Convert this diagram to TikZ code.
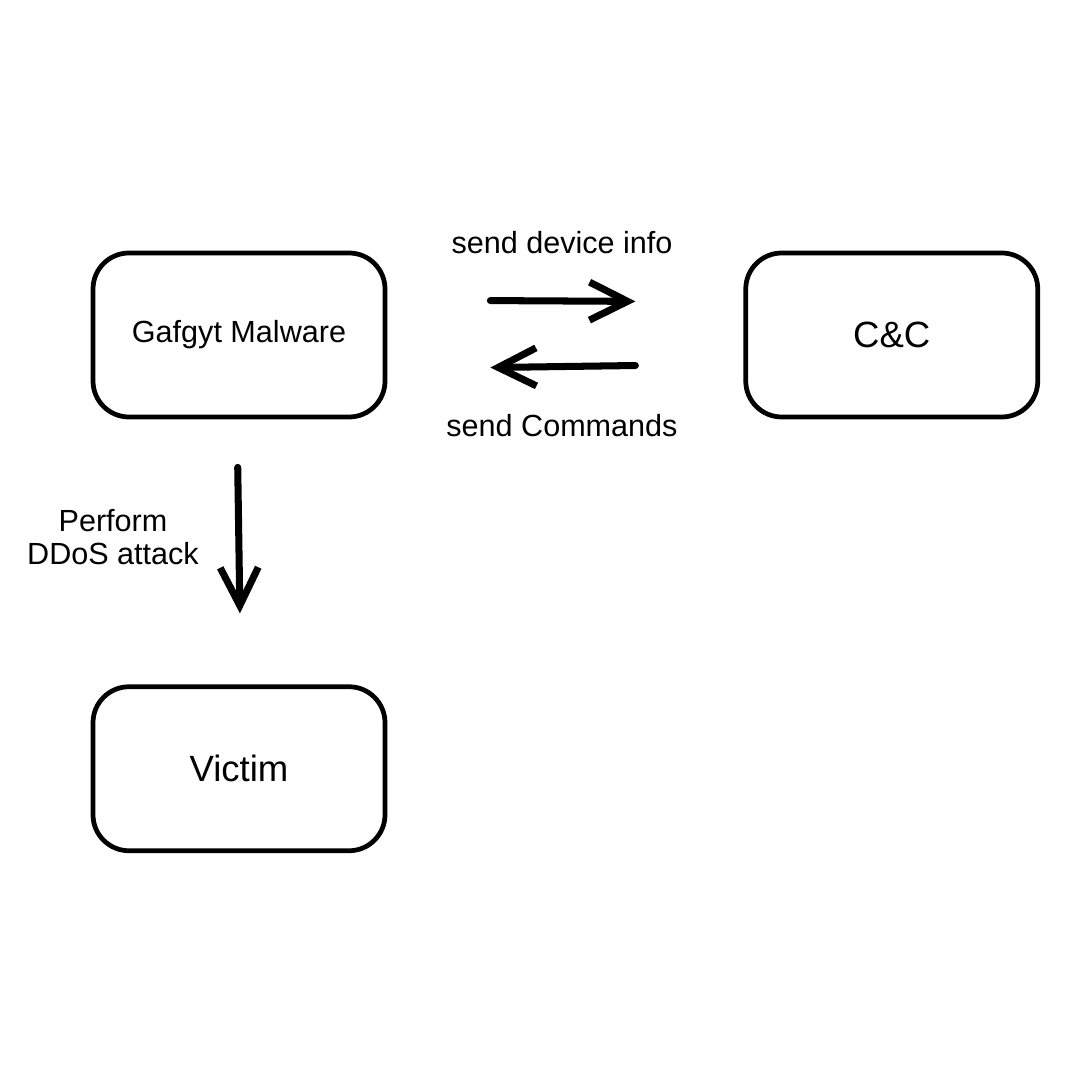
\documentclass[tikz,border=0pt]{standalone}
\usepackage{fontspec}
\setmainfont{Liberation Sans}
\usetikzlibrary{positioning,arrows.meta}

\begin{document}
\begin{tikzpicture}
		\tikzstyle{box}=[rectangle, rounded corners=0.36cm, line width=1.35pt, draw=black, minimum width=2.92cm, minimum height=1.64cm, font=\fontsize{10.4pt}{12pt}\selectfont]
		\tikzstyle{connect}=[line width=2pt, line cap=round, -{Straight Barb[length=0.38cm, width=0.38cm, line width=2pt]}]
		\tikzstyle{lbl}=[align=center, font=\fontsize{8.7pt}{9.4pt}\selectfont]
		\useasboundingbox (0,0) rectangle (10.8,-10.8);
		\node[box, font=\fontsize{8.7pt}{10pt}\selectfont] (mal) at (2.39,-3.35) {Gafgyt Malware};
			\node[box] (cc) [right=3.56cm of mal] {C\&C};
			\node[box] (victim) [below=2.65cm of mal] {Victim};

		\draw[connect, shorten <=1.03cm, shorten >=1.08cm] ([yshift=0.35cm]mal.east) -- ([yshift=0.33cm]cc.west);
		\draw[connect, shorten <=1.08cm, shorten >=1.03cm] ([yshift=-0.29cm]cc.west) -- ([yshift=-0.34cm]mal.east);
		\draw[connect, shorten <=0.48cm, shorten >=0.71cm] ([xshift=-0.02cm]mal.south) -- ([xshift=0.02cm]victim.north);

			\node[lbl] (info) at (5.62,-2.43) {send device info};
			\node[lbl] (cmds) at (5.62,-4.26) {send Commands};
			\node[lbl] (ddos) at (1.13,-5.37) {Perform\\DDoS attack};
\end{tikzpicture}
\end{document}
